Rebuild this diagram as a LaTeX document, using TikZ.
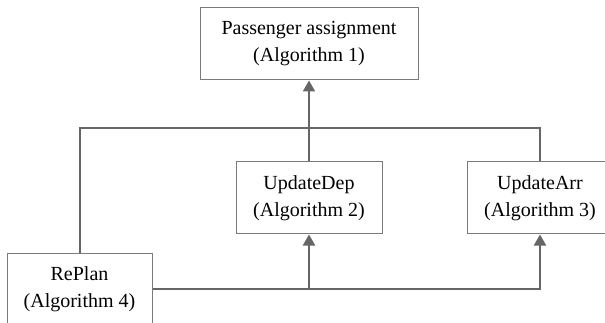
\documentclass[tikz,border=0pt]{standalone}
\usepackage{fontspec}
\setmainfont{Liberation Serif}
\usetikzlibrary{arrows.meta}
\definecolor{boxgray}{HTML}{7A7A7A}
\definecolor{linegray}{HTML}{666666}
\begin{document}
\begin{tikzpicture}[x=1pt,y=-1pt,
  box/.style={draw=boxgray, line width=1pt, fill=white, minimum height=72pt, align=center,
    font=\fontsize{20pt}{27pt}\selectfont, inner sep=0pt},
  conn/.style={draw=linegray, line width=2pt},
  arr/.style={conn, -{Triangle[length=11pt,width=12pt]}}]
\path[use as bounding box, clip] (0,0) rectangle (605,323);
\fill[white] (0,0) rectangle (605,323);
\node[box, minimum width=218pt] (pa) at (309,44) {Passenger assignment\\(Algorithm 1)};
\node[box, minimum width=146pt] (ud) at (309,198) {UpdateDep\\(Algorithm 2)};
\node[box, minimum width=146pt] (ua) at (540,198) {UpdateArr\\(Algorithm 3)};
\node[box, minimum width=145pt] (rp) at (79.5,289) {RePlan\\(Algorithm 4)};
\coordinate (j) at (309,128);
\draw[conn] (rp.north) |- (j) -| (ua.north);
\draw[conn] (ud.north) -- (j);
\draw[arr] (j) -- (pa.south);
\draw[arr] (rp.east) -| (ud.south);
\draw[arr] (rp.east) -| (ua.south);
\end{tikzpicture}
\end{document}
